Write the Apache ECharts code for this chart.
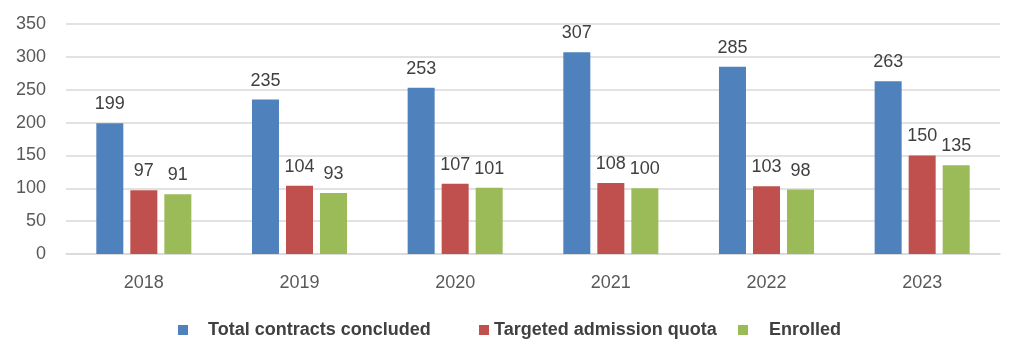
<!DOCTYPE html>
<html><head><meta charset="utf-8">
<script src="https://cdn.jsdelivr.net/npm/echarts@6/dist/echarts.min.js"></script>
<style>html,body{margin:0;padding:0;background:#fff}#c{width:1009px;height:358px}</style>
</head><body><div id="c"></div>
<script>
const categories = ['2018','2019','2020','2021','2022','2023'];
const totalContracts = [199,235,253,307,285,263];
const targetedQuota = [97,104,107,108,103,150];
const enrolled = [91,93,101,100,98,135];
const seriesNames = ['Total contracts concluded','Targeted admission quota','Enrolled'];
const colors = ['#4f81bd','#c0504d','#9bbb59'];

const FONT = '"Liberation Sans", Arial, sans-serif';
const chart = echarts.init(document.getElementById('c'));
const lbl = {show:true, position:'top', distance:10, fontSize:18, color:'#404040', fontFamily:FONT};
function mk(name, data, i){
  return {name, type:'bar', data, barWidth:27, barGap:'26%', itemStyle:{color:colors[i]}, label:lbl};
}
function lt(pad){ return {fontSize:18, fontWeight:'bold', color:'#404040', fontFamily:FONT, padding:[0,0,0,pad]}; }
chart.setOption({
  animation:false,
  grid:{left:66, right:9, top:24, bottom:104},
  legend:[
    {data:[seriesNames[0]], left:173, top:316, itemWidth:10, itemHeight:10, icon:'rect', textStyle:lt(15)},
    {data:[seriesNames[1]], left:474, top:316, itemWidth:10, itemHeight:10, icon:'rect', textStyle:lt(0)},
    {data:[seriesNames[2]], left:733, top:316, itemWidth:10, itemHeight:10, icon:'rect', textStyle:lt(16)}
  ],
  xAxis:{type:'category', data:categories, axisTick:{show:false}, axisLine:{lineStyle:{color:'#d9d9d9', width:1.5}},
    axisLabel:{fontSize:18, color:'#595959', margin:20, fontFamily:FONT}},
  yAxis:{type:'value', min:0, max:350, interval:50, axisLine:{show:false}, axisTick:{show:false},
    splitLine:{lineStyle:{color:'#d9d9d9', width:1.5}},
    axisLabel:{fontSize:18, color:'#595959', margin:20, fontFamily:FONT}},
  series:[mk(seriesNames[0], totalContracts,0), mk(seriesNames[1], targetedQuota,1), mk(seriesNames[2], enrolled,2)]
});
</script></body></html>
